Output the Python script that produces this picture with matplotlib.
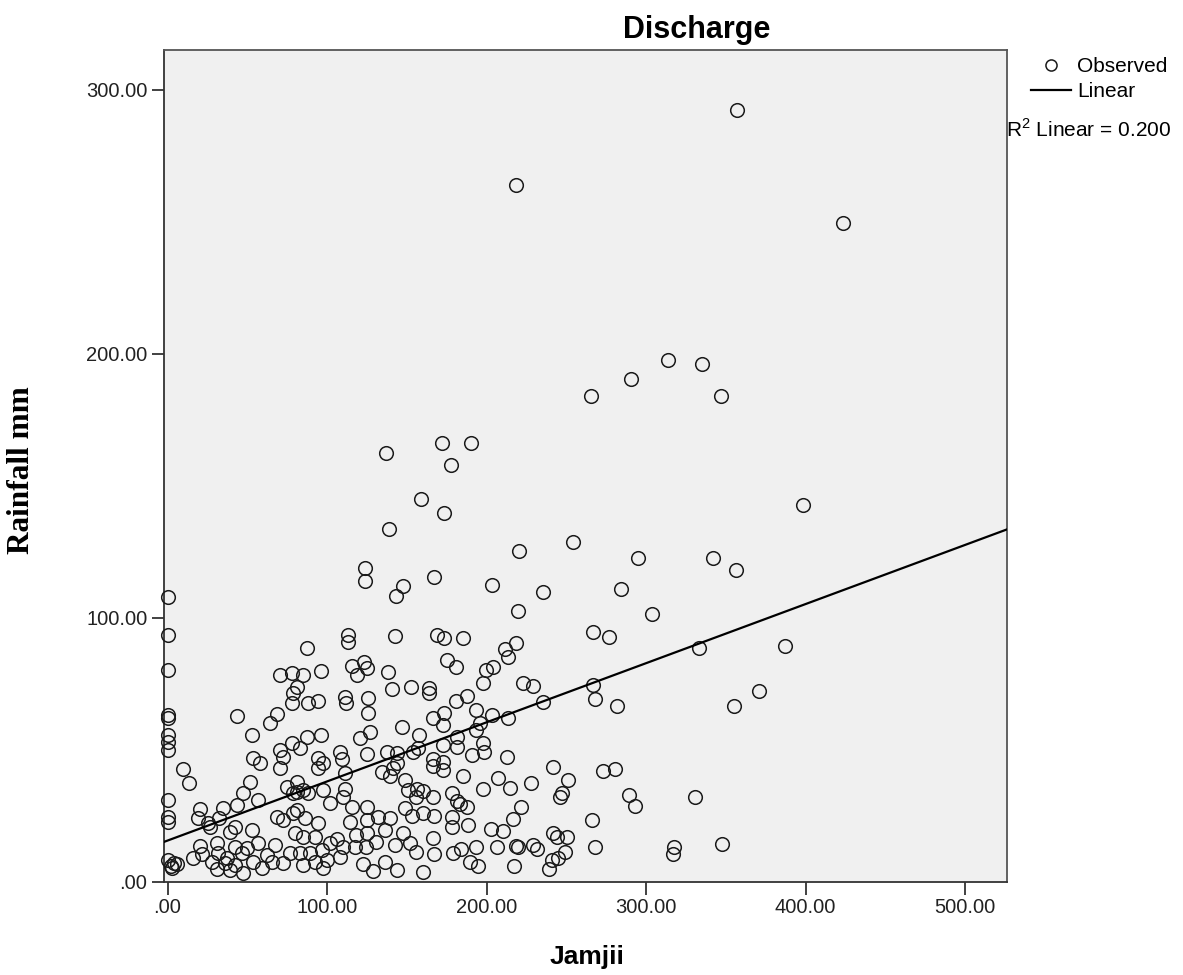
import numpy as np
import matplotlib
matplotlib.use("Agg")
import matplotlib.pyplot as plt
from matplotlib.lines import Line2D
from matplotlib.ticker import FuncFormatter

# ---- values (Jamjii, Rainfall mm) ----
# points sitting on the y axis (Jamjii = 0)
obs_axis = [(0, 107.6), (0, 93.4), (0, 80.1), (0, 63.1), (0, 62.0), (0, 55.5),
            (0, 53.0), (0, 49.8), (0, 30.9), (0, 24.5), (0, 22.7), (0, 8.0),
            (2, 6.0), (4, 7.0), (6, 6.5), (3, 5.0)]

# Jamjii below ~80
obs_low = [(43.8, 62.7), (52.8, 55.5), (53.4, 46.7), (58.0, 44.8), (9.5, 42.5),
           (13.7, 37.4), (51.7, 37.8), (47.5, 33.6), (56.9, 30.9), (70.5, 78.2),
           (68.5, 63.4), (64.3, 59.9), (70.5, 49.8), (72.6, 47.3), (70.5, 42.9),
           (20.4, 27.3), (19.3, 23.9), (32.5, 23.9), (26.6, 20.8), (42.3, 20.8),
           (39.2, 18.9), (52.8, 19.5), (68.5, 24.5), (72.6, 23.3), (67.4, 13.8),
           (20.4, 13.4), (15.8, 8.8), (21.4, 10.4), (30.8, 14.5), (31.8, 10.7),
           (27.7, 7.5), (31.2, 4.6), (36.1, 6.9), (39.2, 4.4), (42.3, 13.2),
           (46.5, 10.7), (47.5, 3.1), (49.7, 12.6), (53.8, 7.5), (56.9, 14.5),
           (59.1, 5.0), (62.2, 10.0), (65.3, 7.5), (72.6, 6.9), (37.1, 8.8),
           (42.3, 6.3), (74.7, 35.9), (78.9, 33.4), (43.4, 29.0), (35.0, 27.7),
           (25.6, 22.0)]

# Jamjii ~75 to ~170
obs_mid = [(123.8, 118.6), (123.8, 113.9), (147.5, 111.9), (143.3, 108.1), (167.1, 115.2),
           (113.4, 93.4), (113.4, 90.8), (142.6, 93.0), (168.8, 93.4), (173.4, 92.1),
           (87.3, 88.6), (115.5, 81.6), (123.2, 83.3), (124.9, 80.8), (118.6, 78.2),
           (138.4, 79.5), (96.1, 79.7), (85.1, 78.2), (77.9, 79.1), (140.6, 72.8),
           (152.5, 73.8), (164.2, 73.2), (164.2, 71.3), (81.0, 73.8), (78.9, 71.3),
           (77.9, 67.5), (88.3, 67.7), (94.5, 68.5), (111.3, 70.0), (111.9, 67.7),
           (125.9, 69.4), (125.9, 63.7), (146.8, 58.6), (157.5, 55.5), (166.6, 61.8),
           (173.4, 63.9), (172.9, 59.3), (127.0, 56.7), (120.7, 54.2), (87.3, 54.8),
           (96.1, 55.5), (77.9, 52.6), (83.1, 50.5), (108.2, 49.2), (109.2, 46.3),
           (124.9, 48.2), (137.4, 49.2), (143.7, 48.6), (153.7, 49.2), (157.3, 50.5),
           (166.6, 46.3), (166.6, 43.8), (172.9, 42.2), (94.5, 46.7), (97.7, 45.0),
           (94.5, 42.9), (134.3, 41.6), (141.6, 42.9), (139.5, 40.0), (143.7, 44.8),
           (111.3, 41.0), (111.3, 34.9), (148.9, 38.4), (151.0, 34.7), (156.2, 34.9),
           (160.4, 34.4), (155.8, 31.9), (166.6, 31.9), (148.9, 27.7), (153.1, 24.8),
           (160.4, 26.1), (167.1, 24.8), (81.0, 37.8), (81.0, 34.0), (88.3, 33.4),
           (97.7, 34.7), (101.9, 29.8), (110.2, 31.9), (115.5, 28.3), (125.3, 28.3),
           (114.4, 22.7), (125.3, 23.3), (132.2, 24.5), (139.5, 23.9), (136.4, 19.5),
           (125.3, 18.3), (118.2, 17.6), (106.1, 16.0), (101.9, 14.5), (110.2, 13.2),
           (117.6, 13.0), (124.5, 13.2), (130.7, 15.1), (142.6, 13.8), (147.8, 18.5),
           (152.0, 14.7), (155.8, 11.3), (166.6, 16.4), (167.1, 10.4), (108.2, 9.4),
           (122.8, 6.6), (129.0, 4.1), (136.4, 7.5), (144.1, 4.4), (160.4, 3.7),
           (85.1, 34.7), (78.9, 25.8), (86.2, 23.9), (94.5, 22.0), (79.9, 18.3),
           (85.1, 17.0), (92.5, 17.0), (76.8, 10.7), (83.1, 10.7), (89.3, 10.7),
           (96.7, 11.9), (99.8, 8.1), (92.5, 7.5), (85.1, 6.3), (97.7, 5.0),
           (81.0, 27.1)]

# Jamjii ~170 to ~255
obs_upper_mid = [(203.6, 112.3), (235.2, 109.7), (219.6, 102.6), (185.5, 92.1), (211.6, 88.0),
                 (218.5, 90.2), (213.7, 85.2), (175.0, 83.9), (180.9, 81.4), (199.5, 80.1),
                 (204.3, 81.4), (197.6, 75.3), (222.7, 75.3), (229.3, 74.2), (235.2, 68.1),
                 (187.6, 70.3), (180.9, 68.5), (193.4, 65.0), (203.6, 63.1), (213.7, 62.0),
                 (195.9, 59.9), (193.4, 57.4), (181.3, 54.8), (198.0, 52.3), (172.9, 51.7),
                 (181.3, 50.8), (198.6, 49.2), (190.7, 47.9), (212.7, 47.3), (172.5, 45.4),
                 (185.5, 40.0), (241.9, 43.3), (251.3, 38.4), (227.7, 37.4), (207.4, 39.3),
                 (214.7, 35.5), (197.6, 34.9), (247.1, 33.4), (246.1, 32.1), (178.2, 33.4),
                 (181.3, 30.6), (187.6, 28.3), (183.4, 29.4), (221.6, 28.3), (216.8, 23.6),
                 (178.2, 24.5), (178.2, 20.8), (188.6, 21.4), (202.6, 19.8), (210.5, 19.2),
                 (241.5, 18.5), (244.0, 17.0), (250.3, 17.0), (179.2, 10.9), (183.8, 12.4),
                 (193.4, 13.0), (189.7, 7.5), (194.9, 5.9), (206.8, 13.0), (218.5, 13.4),
                 (220.0, 13.0), (229.0, 13.8), (231.5, 12.2), (217.2, 5.9), (239.4, 4.6),
                 (240.9, 8.1), (245.0, 8.8), (249.2, 11.3)]

# Jamjii above ~255 and the tall outliers
obs_high = [(218.3, 263.7), (265.3, 184.0), (137.2, 162.4), (171.9, 166.0), (190.3, 166.0),
            (177.6, 157.9), (158.7, 144.9), (173.4, 139.5), (138.9, 133.4), (254.2, 128.7),
            (220.6, 125.1), (356.9, 292.2), (423.7, 249.3), (314.0, 197.5), (335.3, 195.9),
            (290.8, 190.2), (346.8, 183.9), (398.2, 142.6), (387.4, 89.3), (371.0, 72.0),
            (295.2, 122.5), (341.8, 122.5), (356.2, 118.0), (284.1, 110.8), (303.8, 101.3),
            (267.0, 94.4), (277.0, 92.5), (333.0, 88.6), (266.6, 74.4), (267.8, 69.1),
            (282.0, 66.5), (355.2, 66.5), (273.2, 41.7), (280.4, 42.6), (289.1, 32.7),
            (293.3, 28.6), (330.9, 32.1), (266.1, 23.2), (267.8, 13.2), (317.6, 13.0),
            (316.7, 10.4), (347.5, 14.2)]

# linear fit shown on the chart
fit_intercept = 15.5
fit_slope = 0.224
r2_linear = 0.200

x_ticks = [0, 100, 200, 300, 400, 500]
y_ticks = [0, 100, 200, 300]

# ---- figure ----
plt.rcParams['font.family'] = ['Liberation Sans', 'DejaVu Sans']
plt.rcParams['mathtext.fontset'] = 'custom'
plt.rcParams['mathtext.rm'] = 'Liberation Sans'

W, H = 1183, 975
fig = plt.figure(figsize=(W / 100, H / 100), dpi=100)
ax = fig.add_axes([164 / W, 1 - 881.5 / H, (1007 - 164) / W, 831.5 / H])
ax.set_facecolor('#f0f0f0')

pts = np.array(obs_axis + obs_low + obs_mid + obs_upper_mid + obs_high)
ax.plot(pts[:, 0], pts[:, 1], 'o', ms=9.8, mfc='none', mec='#1a1a1a', mew=1.1,
        zorder=3, clip_on=False)

ax.set_xlim(-2.2, 526.3)
ax.set_ylim(0, 315)

xl = np.array(ax.get_xlim())
ax.plot(xl, fit_intercept + fit_slope * xl, color='black', lw=1.6, zorder=4)

def spss_fmt(v, pos):
    s = f"{v:.2f}"
    return s[1:] if s.startswith("0") else s

ax.set_xticks(x_ticks)
ax.set_yticks(y_ticks)
ax.xaxis.set_major_formatter(FuncFormatter(spss_fmt))
ax.yaxis.set_major_formatter(FuncFormatter(spss_fmt))
ax.tick_params(length=9, width=1.3, color='#333333', labelsize=14.5,
               labelcolor='#222222', pad=3)
for sp in ax.spines.values():
    sp.set_color('#555555')
    sp.set_linewidth(1.3)
ax.spines['left'].set_color('#333333')
ax.spines['bottom'].set_color('#333333')

# titles
fig.text(697 / W, 1 - 30 / H, 'Discharge', ha='center', va='center',
         fontsize=22, fontweight='bold')
fig.text(587 / W, 1 - 957 / H, 'Jamjii', ha='center', va='center',
         fontsize=19, fontweight='bold')
fig.text(22 / W, 1 - 470 / H, 'Rainfall mm', ha='center', va='center', rotation=90,
         fontsize=22.5, fontweight='bold', family='Liberation Serif')

# legend
handles = [Line2D([], [], ls='none', marker='o', ms=8, mfc='none', mec='#1a1a1a', mew=1.1),
           Line2D([], [], color='black', lw=1.6)]
fig.legend(handles, ['Observed', 'Linear'], loc='upper left',
           bbox_to_anchor=(1031 / W, 1 - 57 / H), frameon=False, fontsize=15,
           handlelength=1.9, handletextpad=0.3, labelspacing=0.3, borderpad=0,
           borderaxespad=0)
fig.text(1006 / W, 1 - 130 / H, 'R$^2$ Linear = ' + f'{r2_linear:.3f}', ha='left',
         va='center', fontsize=15)

fig.savefig('out.png', dpi=100)
